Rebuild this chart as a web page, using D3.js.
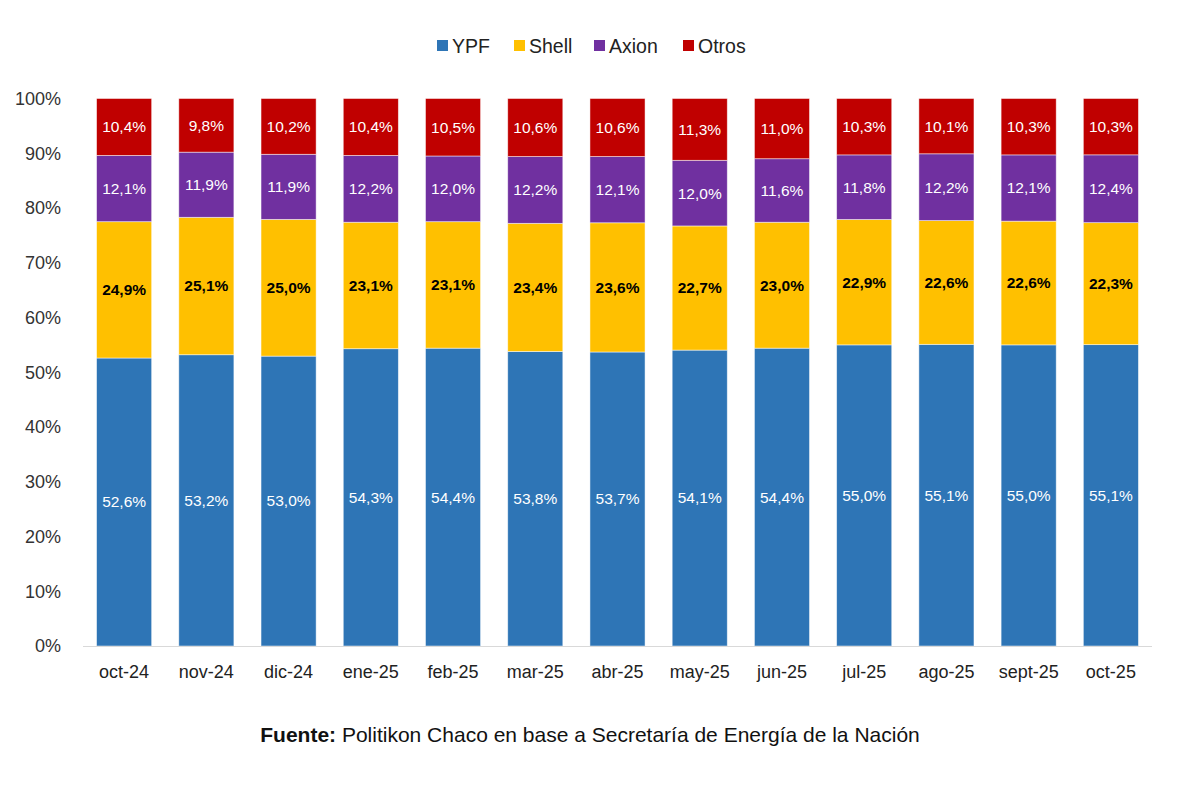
<!DOCTYPE html>
<html>
<head>
<meta charset="utf-8">
<script src="https://cdn.jsdelivr.net/npm/d3@7"></script>
<style>
  body { margin: 0; background: #fff; }
  svg text { font-family: "Liberation Sans", Arial, sans-serif; }
</style>
</head>
<body>
<div id="chart"></div>
<script>
// Meses y participación de mercado (%)
var months = ["oct-24", "nov-24", "dic-24", "ene-25", "feb-25", "mar-25", "abr-25",
              "may-25", "jun-25", "jul-25", "ago-25", "sept-25", "oct-25"];
var ypf   = [52.6, 53.2, 53.0, 54.3, 54.4, 53.8, 53.7, 54.1, 54.4, 55.0, 55.1, 55.0, 55.1];
var shell = [24.9, 25.1, 25.0, 23.1, 23.1, 23.4, 23.6, 22.7, 23.0, 22.9, 22.6, 22.6, 22.3];
var axion = [12.1, 11.9, 11.9, 12.2, 12.0, 12.2, 12.1, 12.0, 11.6, 11.8, 12.2, 12.1, 12.4];
var otros = [10.4, 9.8, 10.2, 10.4, 10.5, 10.6, 10.6, 11.3, 11.0, 10.3, 10.1, 10.3, 10.3];
var yTicks = [0, 10, 20, 30, 40, 50, 60, 70, 80, 90, 100];

var seriesNames = ["YPF", "Shell", "Axion", "Otros"];
var seriesVals = [ypf, shell, axion, otros];
var colors = ["#2E75B6", "#FFC000", "#7030A0", "#C00000"];
var labelColors = ["#fff", "#000", "#fff", "#fff"];
var labelWeights = [400, 700, 400, 400];

var width = 1200, height = 786;
var margin = { top: 98.5, right: 48, bottom: 140, left: 83 };

var svg = d3.select("#chart").append("svg")
    .attr("width", width)
    .attr("height", height);

// Tabla para el apilado (normalizada a 100%)
var table = months.map(function(m, i) {
    var row = { month: m };
    var total = d3.sum(seriesVals, function(s) { return s[i]; });
    seriesNames.forEach(function(n, k) { row[n] = seriesVals[k][i] / total * 100; row[n + "_raw"] = seriesVals[k][i]; });
    return row;
});

var stacked = d3.stack().keys(seriesNames)(table);

var x = d3.scaleBand()
    .domain(months)
    .range([margin.left, width - margin.right])
    .paddingInner(0.33)
    .paddingOuter(0.165);

var y = d3.scaleLinear()
    .domain([0, 100])
    .range([height - margin.bottom, margin.top]);

// Eje Y
var yAxis = svg.append("g")
    .attr("transform", "translate(" + (margin.left - 19) + ",0)")
    .call(d3.axisLeft(y).tickValues(yTicks).tickSize(0).tickFormat(function(d) { return d + "%"; }));
yAxis.select(".domain").remove();
yAxis.selectAll("text")
    .style("font-family", "'Liberation Sans', Arial, sans-serif")
    .style("font-size", "18px")
    .style("fill", "#333");

// Barras
var groups = svg.selectAll(".serie")
    .data(stacked)
    .enter().append("g")
    .attr("class", "serie")
    .attr("fill", function(d, i) { return colors[i]; });

groups.selectAll("rect")
    .data(function(d) { return d; })
    .enter().append("rect")
    .attr("x", function(d) { return x(d.data.month); })
    .attr("y", function(d) { return y(d[1]); })
    .attr("width", x.bandwidth())
    .attr("height", function(d) { return y(d[0]) - y(d[1]); })
    .attr("stroke", "#fff")
    .attr("stroke-opacity", 0.6)
    .attr("stroke-width", 0.8);

// Etiquetas de valores
groups.each(function(s, k) {
    d3.select(this).selectAll("text")
        .data(s)
        .enter().append("text")
        .attr("x", function(d) { return x(d.data.month) + x.bandwidth() / 2; })
        .attr("y", function(d) { return (y(d[0]) + y(d[1])) / 2; })
        .attr("dy", "0.35em")
        .attr("text-anchor", "middle")
        .style("font-size", "15.5px")
        .style("font-weight", labelWeights[k])
        .style("fill", labelColors[k])
        .text(function(d) { return d.data[s.key + "_raw"].toFixed(1).replace(".", ",") + "%"; });
});

// Eje X
svg.append("line")
    .attr("x1", margin.left)
    .attr("x2", width - margin.right)
    .attr("y1", y(0) + 0.5)
    .attr("y2", y(0) + 0.5)
    .attr("stroke", "#d9d9d9")
    .attr("stroke-width", 1.2);

svg.append("g").selectAll("text")
    .data(months)
    .enter().append("text")
    .attr("x", function(d) { return x(d) + x.bandwidth() / 2; })
    .attr("y", y(0) + 32)
    .attr("text-anchor", "middle")
    .style("font-size", "18px")
    .style("fill", "#222")
    .text(function(d) { return d; });

// Leyenda
var legendX = [437, 514, 594, 683];
var legend = svg.append("g").selectAll("g")
    .data(seriesNames)
    .enter().append("g")
    .attr("transform", function(d, i) { return "translate(" + legendX[i] + ",46)"; });
legend.append("rect")
    .attr("x", 0).attr("y", -6)
    .attr("width", 11).attr("height", 11)
    .attr("fill", function(d, i) { return colors[i]; });
legend.append("text")
    .attr("x", 15)
    .attr("dy", "0.35em")
    .style("font-size", "19.5px")
    .style("fill", "#222")
    .text(function(d) { return d; });

// Fuente
var src = svg.append("text")
    .attr("x", 590)
    .attr("y", 742)
    .attr("text-anchor", "middle")
    .style("font-size", "21px")
    .style("fill", "#111");
src.append("tspan").style("font-weight", 700).text("Fuente:");
src.append("tspan").text(" Politikon Chaco en base a Secretaría de Energía de la Nación");
</script>
</body>
</html>
